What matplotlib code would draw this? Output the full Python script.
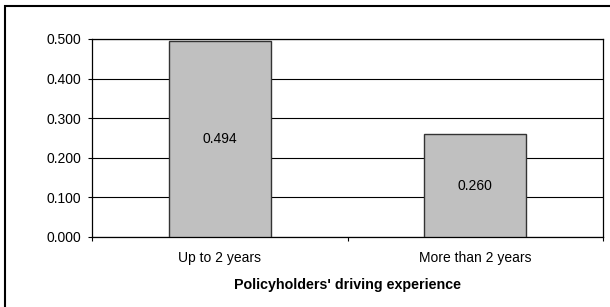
import matplotlib
matplotlib.use('Agg')
import matplotlib.pyplot as plt
import matplotlib.patches as mpatches
import matplotlib.ticker as mticker

plt.rcParams['font.family'] = ['Liberation Sans', 'DejaVu Sans']

categories = ['Up to 2 years', 'More than 2 years']
values = [0.494, 0.260]
y_ticks = [0.0, 0.1, 0.2, 0.3, 0.4, 0.5]

fig = plt.figure(figsize=(6.1, 3.07), dpi=100)
ax = fig.add_axes([92 / 610, 70 / 307, 511 / 610, 198 / 307])

x = list(range(len(categories)))
bars = ax.bar(x, values, width=0.40, color='#C0C0C0', edgecolor='#333333',
              linewidth=1.0, zorder=3)
for xi, v in zip(x, values):
    ax.text(xi, v / 2, f'{v:.3f}', ha='center', va='center', fontsize=10, zorder=4)

ax.set_xlim(-0.5, len(categories) - 0.5)
ax.set_ylim(0, 0.5)
ax.set_yticks(y_ticks)
ax.yaxis.set_major_formatter(mticker.FormatStrFormatter('%.3f'))
ax.grid(axis='y', color='black', linewidth=0.8, zorder=0)

ax.set_xticks(x)
ax.set_xticklabels(categories, fontsize=10)
ax.set_xticks([i - 0.5 for i in range(len(categories) + 1)], minor=True)
ax.tick_params(axis='x', which='major', length=0, pad=10)
ax.tick_params(axis='x', which='minor', length=3, width=0.8, direction='out')
ax.tick_params(axis='y', length=3, width=0.8, direction='out', labelsize=10, pad=4.5)

for s in ax.spines.values():
    s.set_color('black')
    s.set_linewidth(0.9)

ax.set_xlabel("Policyholders' driving experience", fontsize=10.3, fontweight='bold', labelpad=9.5)

# chart area border (only left and top visible inside the image)
border = mpatches.Rectangle((5 / 610, -0.05), 1.1, 1 - 6 / 307 + 0.05, transform=fig.transFigure,
                            fill=False, edgecolor='black', linewidth=1.5)
fig.patches.append(border)

fig.savefig('out.png', dpi=100)
